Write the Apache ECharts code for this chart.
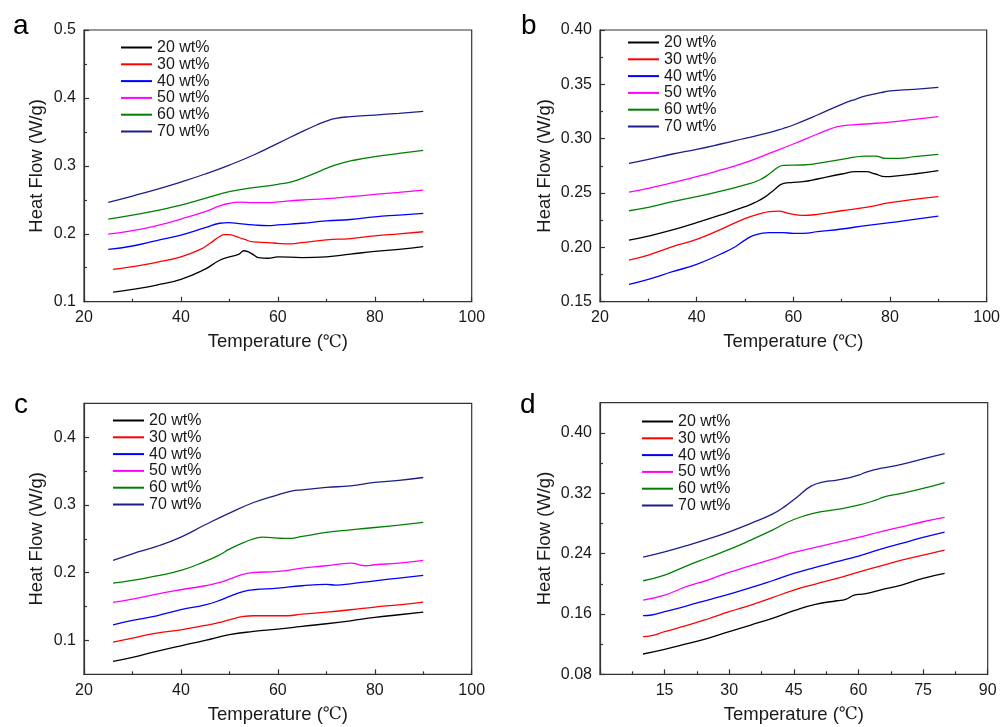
<!DOCTYPE html>
<html>
<head>
<meta charset="utf-8">
<script src="https://cdn.jsdelivr.net/npm/echarts@6/dist/echarts.min.js"></script>
<style>
  html, body { margin: 0; padding: 0; background: #ffffff; }
  #chart { width: 1003px; height: 727px; }
</style>
</head>
<body>
<div id="chart"></div>
<script>
// Series labels and colours (same six concentrations in every panel)
const seriesNames = ['20 wt%', '30 wt%', '40 wt%', '50 wt%', '60 wt%', '70 wt%'];
const seriesColors = ['#000000', '#ff0000', '#0000ff', '#ff00ff', '#008000', '#1e1e88'];
const panelLetters = ['a', 'b', 'c', 'd'];

// Panel a: [temperature °C, heat flow W/g]
const a20 = [[26,0.114],[30,0.118],[35,0.1245],[40,0.133],[45,0.148],[48,0.161],[50,0.166],[52,0.170],[53,0.175],[54,0.173],[55,0.169],[56,0.165],[58,0.164],[60,0.166],[65,0.165],[70,0.166],[75,0.170],[80,0.174],[85,0.177],[90,0.181]];
const a30 = [[26,0.1476],[30,0.1515],[35,0.158],[40,0.166],[44,0.177],[46,0.186],[48,0.196],[49,0.1987],[50,0.1987],[51,0.197],[53,0.192],[55,0.188],[58,0.187],[60,0.186],[62,0.185],[65,0.187],[70,0.191],[75,0.193],[80,0.197],[85,0.200],[90,0.203]];
const a40 = [[25,0.177],[30,0.182],[35,0.190],[40,0.198],[45,0.209],[48,0.2155],[50,0.2165],[52,0.215],[55,0.213],[58,0.212],[60,0.213],[65,0.2155],[70,0.219],[75,0.221],[80,0.225],[85,0.2275],[90,0.230]];
const a50 = [[25,0.1996],[30,0.2045],[35,0.212],[40,0.2217],[45,0.2325],[48,0.241],[50,0.2448],[52,0.2467],[55,0.2458],[58,0.2458],[60,0.247],[65,0.2497],[70,0.2516],[75,0.2546],[80,0.258],[85,0.261],[90,0.2644]];
const a60 = [[25,0.2217],[30,0.2276],[35,0.234],[40,0.2423],[45,0.2521],[50,0.262],[55,0.2679],[60,0.2728],[63,0.2767],[65,0.2816],[68,0.290],[70,0.2963],[73,0.3037],[76,0.3086],[80,0.3135],[85,0.3184],[90,0.3228]];
const a70 = [[25,0.2463],[30,0.2556],[35,0.2654],[40,0.2762],[45,0.288],[50,0.3012],[55,0.316],[60,0.3331],[65,0.3503],[68,0.3601],[70,0.366],[72,0.370],[75,0.3724],[80,0.3748],[85,0.3773],[90,0.3802]];

// Panel b
const b20 = [[26,0.2067],[30,0.2104],[35,0.216],[40,0.2227],[45,0.2298],[50,0.2374],[52,0.2411],[54,0.246],[56,0.2528],[58,0.2589],[60,0.2598],[62,0.2604],[65,0.2629],[70,0.2675],[73,0.2696],[75,0.2696],[77,0.2675],[79,0.265],[82,0.266],[85,0.2675],[90,0.2706]];
const b30 = [[26,0.1883],[30,0.1929],[35,0.2006],[40,0.2074],[45,0.2166],[50,0.2264],[53,0.2307],[55,0.2328],[57,0.2334],[59,0.2313],[62,0.2294],[65,0.2304],[70,0.2337],[75,0.2368],[80,0.2411],[85,0.2442],[90,0.2466]];
const b40 = [[26,0.166],[30,0.1706],[35,0.1776],[40,0.1844],[45,0.1939],[48,0.2006],[50,0.2067],[52,0.2113],[55,0.2135],[58,0.2135],[60,0.2129],[62,0.2129],[65,0.2144],[70,0.2169],[75,0.220],[80,0.2227],[85,0.2258],[90,0.2288]];
const b50 = [[26,0.2509],[30,0.2543],[35,0.2595],[40,0.265],[45,0.2712],[50,0.2779],[55,0.2865],[60,0.2951],[65,0.3043],[68,0.3095],[70,0.3117],[75,0.3135],[80,0.3153],[85,0.3178],[90,0.3202]];
const b60 = [[26,0.2337],[30,0.2368],[35,0.242],[40,0.2466],[45,0.2518],[50,0.2574],[53,0.262],[55,0.2675],[57,0.2742],[58,0.2755],[62,0.2758],[65,0.2773],[70,0.281],[75,0.284],[77,0.284],[79,0.2819],[82,0.2819],[85,0.2834],[90,0.2856]];
const b70 = [[26,0.2773],[30,0.281],[35,0.2859],[40,0.2902],[45,0.2951],[50,0.3003],[55,0.3055],[58,0.3095],[60,0.3126],[65,0.3218],[70,0.3316],[73,0.3365],[75,0.3393],[78,0.3423],[80,0.3439],[85,0.3454],[90,0.3472]];

// Panel c
const c20 = [[26,0.069],[30,0.0749],[35,0.0838],[40,0.0921],[45,0.100],[50,0.1084],[55,0.1133],[60,0.1167],[65,0.1207],[70,0.1246],[75,0.129],[80,0.1339],[85,0.1379],[90,0.1418]];
const c30 = [[26,0.0975],[30,0.1034],[35,0.1108],[40,0.1157],[45,0.1221],[48,0.1266],[50,0.1305],[53,0.1354],[55,0.1364],[58,0.1364],[62,0.1364],[65,0.1389],[70,0.1418],[75,0.1453],[80,0.1492],[85,0.1526],[90,0.1566]];
const c40 = [[26,0.1231],[30,0.1295],[35,0.1364],[40,0.1453],[45,0.1526],[48,0.159],[50,0.1649],[53,0.1723],[55,0.1748],[60,0.1772],[65,0.1807],[70,0.1826],[72,0.1817],[75,0.1836],[80,0.188],[85,0.192],[90,0.1959]];
const c50 = [[26,0.1561],[30,0.161],[35,0.1684],[40,0.1748],[45,0.1807],[48,0.1856],[50,0.1905],[53,0.1979],[55,0.2003],[60,0.2018],[65,0.2067],[70,0.2102],[73,0.2131],[75,0.2141],[78,0.2102],[80,0.2117],[85,0.2141],[90,0.218]];
const c60 = [[26,0.1846],[30,0.1885],[35,0.1954],[40,0.2033],[45,0.2166],[48,0.2264],[50,0.2348],[53,0.2446],[55,0.250],[57,0.2525],[60,0.251],[62,0.2505],[65,0.2535],[70,0.2594],[75,0.2633],[80,0.2667],[85,0.2702],[90,0.2741]];
const c70 = [[26,0.2181],[30,0.2279],[35,0.2387],[40,0.2525],[45,0.2707],[50,0.2879],[55,0.3036],[60,0.315],[63,0.3209],[65,0.3223],[70,0.3258],[75,0.3282],[80,0.3332],[85,0.3361],[90,0.3405]];

// Panel d
const d20 = [[10,0.1069],[15,0.1131],[20,0.1202],[25,0.1277],[30,0.1365],[35,0.1453],[40,0.1542],[45,0.1643],[50,0.1727],[55,0.1775],[57,0.1793],[59,0.185],[60,0.1859],[62,0.1873],[65,0.1917],[70,0.1983],[75,0.2071],[80,0.2137]];
const d30 = [[10,0.1299],[12,0.1312],[15,0.1365],[20,0.1444],[25,0.1533],[30,0.163],[35,0.1718],[40,0.1815],[45,0.1917],[50,0.1996],[55,0.2071],[60,0.2155],[65,0.2234],[70,0.2314],[75,0.238],[80,0.2446]];
const d40 = [[10,0.1577],[12,0.1586],[15,0.163],[20,0.1705],[25,0.1784],[30,0.1864],[35,0.1948],[40,0.204],[45,0.2137],[50,0.2217],[55,0.2292],[60,0.2367],[65,0.2455],[70,0.2535],[75,0.2614],[80,0.2685]];
const d50 = [[10,0.1784],[15,0.185],[20,0.1961],[25,0.2049],[30,0.2151],[35,0.2239],[40,0.2327],[45,0.2415],[50,0.2482],[55,0.2548],[60,0.2614],[65,0.2689],[70,0.2755],[75,0.2822],[80,0.2879]];
const d60 = [[10,0.204],[15,0.2115],[20,0.2234],[25,0.2345],[30,0.2455],[35,0.2579],[40,0.2711],[45,0.2852],[50,0.2941],[55,0.2985],[60,0.3042],[64,0.3108],[66,0.3153],[70,0.3197],[75,0.3263],[80,0.3342]];
const d70 = [[10,0.2354],[15,0.2424],[20,0.2504],[25,0.2592],[30,0.2689],[35,0.280],[40,0.2923],[43,0.3029],[46,0.3161],[49,0.3294],[52,0.3351],[55,0.3373],[58,0.3408],[60,0.3439],[62,0.3484],[65,0.3528],[70,0.3581],[75,0.3656],[80,0.3726]];

// Axis ranges and tick labels
const xRanges = [[20, 100, 20], [20, 100, 20], [20, 100, 20], [0, 90, 15]];
const yRanges = [[0.1, 0.5], [0.15, 0.40], [0.05, 0.45], [0.08, 0.44]];
const yLabelValues = [
  [0.1, 0.2, 0.3, 0.4, 0.5],
  [0.15, 0.20, 0.25, 0.30, 0.35, 0.40],
  [0.1, 0.2, 0.3, 0.4],
  [0.08, 0.16, 0.24, 0.32, 0.40]
];
const yMinorValues = [
  [0.15, 0.25, 0.35, 0.45],
  [0.175, 0.225, 0.275, 0.325, 0.375],
  [0.15, 0.25, 0.35],
  [0.12, 0.20, 0.28, 0.36]
];
const yDecimals = [1, 2, 1, 2];

const panelData = [
  [a20, a30, a40, a50, a60, a70],
  [b20, b30, b40, b50, b60, b70],
  [c20, c30, c40, c50, c60, c70],
  [d20, d30, d40, d50, d60, d70]
];

const FONT = '"Liberation Sans", Arial, Helvetica, sans-serif';
const INK = '#1a1a1a';
const FRAME = '#333333';

// Panel placement (pixels)
const grids = [
  { left: 84,  top: 30,    right: 531.3, bottom: 425.3 },
  { left: 600, top: 30,    right: 15.3,  bottom: 425.3 },
  { left: 84,  top: 403.3, right: 531.3, bottom: 52.7 },
  { left: 600, top: 402.7, right: 15.3,  bottom: 52.7 }
];
const legendPos = [
  { left: 121, top: 39.5 },
  { left: 628, top: 34.5 },
  { left: 113, top: 412.5 },
  { left: 642, top: 413.5 }
];
const letterPos = [
  { left: 8,   top: 7 },
  { left: 516, top: 7 },
  { left: 9,   top: 386 },
  { left: 515, top: 386 }
];
const yNameGap = [38, 46, 38, 46];

const option = {
  backgroundColor: '#ffffff',
  animation: false,
  title: panelLetters.map((t, i) => ({
    text: t,
    left: letterPos[i].left,
    top: letterPos[i].top,
    textStyle: { fontFamily: FONT, fontSize: 28, fontWeight: 'normal', color: '#000' }
  })),
  grid: grids.map(g => Object.assign({
    show: true, borderColor: FRAME, borderWidth: 1.2, backgroundColor: 'transparent', containLabel: false
  }, g)),
  legend: legendPos.map(p => ({
    data: seriesNames,
    orient: 'vertical',
    left: p.left,
    top: p.top,
    padding: 0,
    itemWidth: 31,
    itemHeight: 10,
    itemGap: 0.8,
    icon: 'path://M0,0 L31,0 L31,2 L0,2 Z',
    textStyle: { fontFamily: FONT, fontSize: 16, color: INK, lineHeight: 16 },
    selectedMode: false
  })),
  xAxis: xRanges.map((r, i) => ({
    type: 'value',
    gridIndex: i,
    min: r[0],
    max: r[1],
    interval: r[2],
    name: 'Temperature ({u|℃})',
    nameLocation: 'middle',
    nameGap: 31,
    nameTextStyle: {
      fontFamily: FONT, fontSize: 18.5, color: INK,
      rich: { u: { fontFamily: '"DejaVu Serif", "Liberation Serif", serif', fontSize: 17, color: INK } }
    },
    axisLine: { show: true, lineStyle: { color: FRAME, width: 1.2 } },
    axisTick: { show: true, inside: true, length: 5, lineStyle: { color: FRAME, width: 1.2 } },
    minorTick: { show: true, splitNumber: 2, length: 3, lineStyle: { color: FRAME, width: 1.2 } },
    splitLine: { show: false },
    minorSplitLine: { show: false },
    axisLabel: {
      fontFamily: FONT, fontSize: 16, color: INK, margin: 8,
      showMinLabel: i !== 3
    }
  })),
  yAxis: yRanges.map((r, i) => ({
    type: 'value',
    gridIndex: i,
    position: 'left',
    min: r[0],
    max: r[1],
    name: 'Heat Flow (W/g)',
    nameLocation: 'middle',
    nameGap: yNameGap[i],
    nameTextStyle: { fontFamily: FONT, fontSize: 18.5, color: INK },
    axisLine: { show: true, lineStyle: { color: FRAME, width: 1.2 } },
    axisTick: { show: true, inside: true, length: 5, customValues: yLabelValues[i], lineStyle: { color: FRAME, width: 1.2 } },
    splitLine: { show: false },
    axisLabel: {
      fontFamily: FONT, fontSize: 16, color: INK, margin: 8,
      customValues: yLabelValues[i],
      formatter: v => v.toFixed(yDecimals[i])
    }
  })).concat(yRanges.map((r, i) => ({
    // short inner ticks between the labelled ones, on the same left edge
    type: 'value',
    gridIndex: i,
    position: 'left',
    offset: 0,
    min: r[0],
    max: r[1],
    axisLine: { show: false, onZero: false },
    axisTick: { show: true, inside: true, length: 3, customValues: yMinorValues[i], lineStyle: { color: FRAME, width: 1.2 } },
    axisLabel: { show: false },
    splitLine: { show: false }
  }))),
  series: []
};

panelData.forEach((curves, p) => {
  curves.forEach((pts, k) => {
    option.series.push({
      type: 'line',
      name: seriesNames[k],
      xAxisIndex: p,
      yAxisIndex: p,
      data: pts,
      smooth: 0.5,
      symbol: 'none',
      showSymbol: false,
      lineStyle: { color: seriesColors[k], width: 1.3 },
      itemStyle: { color: seriesColors[k] },
      emphasis: { disabled: true }
    });
  });
});

const chart = echarts.init(document.getElementById('chart'), null, { renderer: 'canvas' });
chart.setOption(option);
</script>
</body>
</html>
